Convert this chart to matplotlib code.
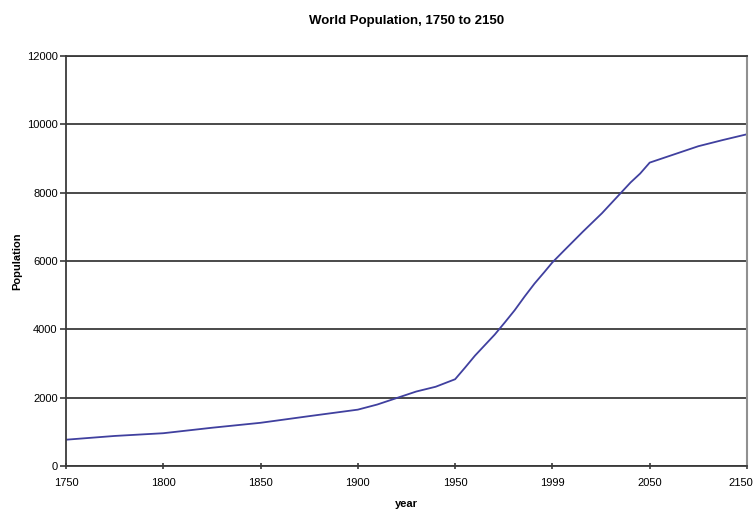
import numpy as np
import matplotlib
matplotlib.use('Agg')
import matplotlib.pyplot as plt
import matplotlib.transforms as mtransforms

plt.rcParams['font.family'] = ['Liberation Sans', 'DejaVu Sans']

# category labels shown on the x axis (evenly spaced, like an Excel line chart)
tick_years = [1750, 1800, 1850, 1900, 1950, 1999, 2050, 2150]

# world population (millions)
years = [1750, 1775, 1800, 1825, 1850, 1875, 1900, 1910, 1920, 1930, 1940,
         1950, 1955, 1960, 1965, 1970, 1975, 1980, 1985, 1990, 1995, 1999,
         2005, 2010, 2015, 2020, 2025, 2030, 2035, 2040, 2045, 2050,
         2075, 2100, 2125, 2150]
population = [770, 880, 960, 1120, 1265, 1460, 1650, 1800, 1990, 2180, 2320,
              2540, 2880, 3230, 3540, 3850, 4200, 4560, 4960, 5340, 5680, 5960,
              6300, 6580, 6860, 7130, 7400, 7700, 8000, 8300, 8560, 8880,
              9120, 9360, 9540, 9710]

# position of each year on the category axis
cat_idx = np.arange(len(tick_years))
xpos = np.interp(years, tick_years, cat_idx)

fig = plt.figure(figsize=(7.53, 5.12), dpi=100)
ax = fig.add_axes([0.0876, 0.0898, 0.9044, 0.8008])

ax.plot(xpos, population, color='#40409f', linewidth=1.3)

ax.set_xlim(0, len(tick_years) - 1)
ax.set_ylim(0, 12000)
ax.set_xticks(cat_idx)
ax.set_xticklabels([str(y) for y in tick_years])
ax.set_yticks(range(0, 12001, 2000))

ax.yaxis.grid(True, color='#3a3a3a', linewidth=1.3)
ax.set_axisbelow(True)

ax.spines['top'].set_color('#3a3a3a')
ax.spines['top'].set_linewidth(1.3)
ax.spines['right'].set_color('#909090')
ax.spines['right'].set_linewidth(1.5)
ax.spines['left'].set_color('#3a3a3a')
ax.spines['left'].set_linewidth(1.3)
ax.spines['bottom'].set_color('#3a3a3a')
ax.spines['bottom'].set_linewidth(1.3)

ax.tick_params(axis='y', direction='out', length=4, width=1.2, color='#3a3a3a',
               labelsize=8, pad=2)
ax.tick_params(axis='x', direction='inout', length=5, width=1.2, color='#3a3a3a',
               labelsize=8, pad=6)

# last label sits at the right edge; nudge it so it stays inside the figure
last = ax.get_xticklabels()[-1]
last.set_transform(last.get_transform() + mtransforms.ScaledTranslation(-6 / 100, 0, fig.dpi_scale_trans))

ax.set_title('World Population, 1750 to 2150', fontsize=9.5, fontweight='bold', pad=23)
ax.set_xlabel('year', fontsize=8, fontweight='bold', labelpad=8)
ax.set_ylabel('Population', fontsize=8, fontweight='bold', labelpad=3)

fig.savefig('out.png', dpi=100)
